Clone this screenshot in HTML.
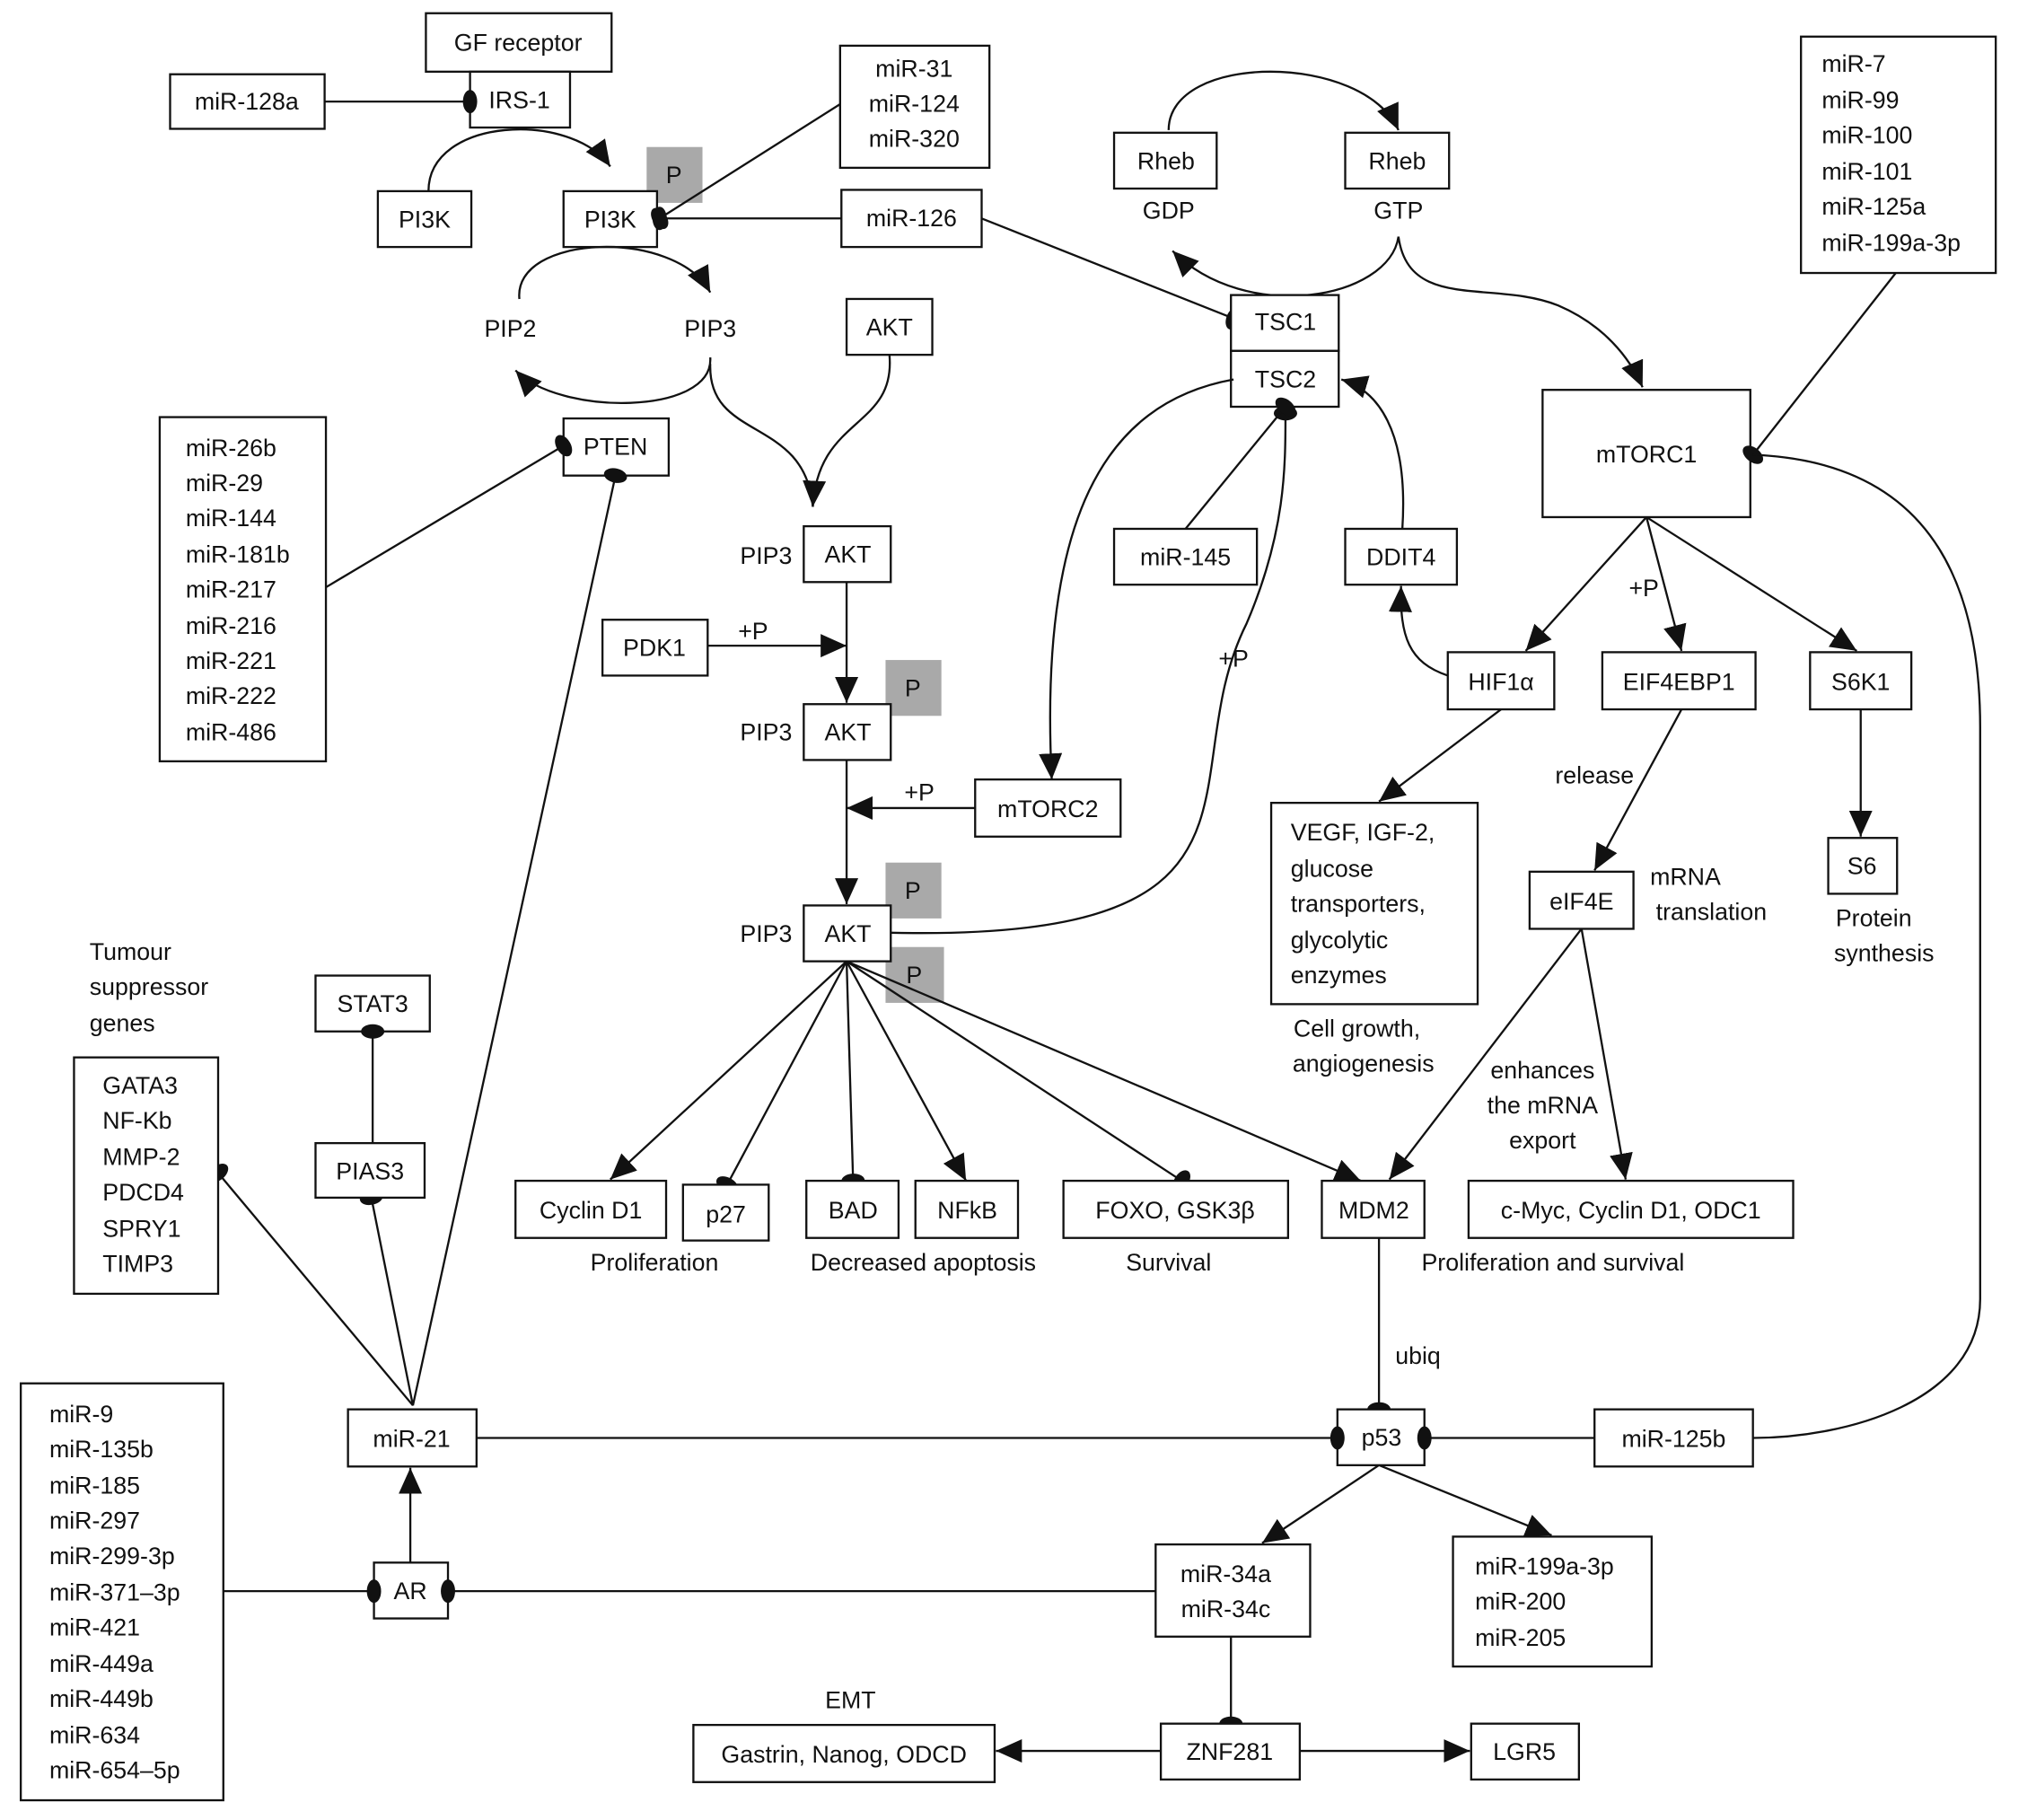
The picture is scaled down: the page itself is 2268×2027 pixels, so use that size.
<!DOCTYPE html>
<html><head><meta charset="utf-8"><style>
html,body{margin:0;padding:0;background:#fff;}
svg{display:block;}
text{font-family:"Liberation Sans",sans-serif;font-size:18.5px;fill:#111;}
.b{fill:#fff;stroke:#111;stroke-width:1.6;}
.g{fill:#a9a9a9;stroke:none;}
.l{fill:none;stroke:#111;stroke-width:1.6;}
</style></head><body>
<svg width="2268" height="2027" viewBox="0 0 1568 1401" xmlns="http://www.w3.org/2000/svg">
<defs>
<marker id="a" markerUnits="userSpaceOnUse" markerWidth="22" markerHeight="20" refX="20" refY="9" orient="auto"><path d="M0,0 L20,9 L0,18 z" fill="#111"/></marker>
<marker id="o" markerUnits="userSpaceOnUse" markerWidth="14" markerHeight="22" refX="6" refY="10" orient="auto"><ellipse cx="6" cy="10" rx="5.5" ry="9" fill="#111"/></marker>
</defs>
<g text-anchor="middle">
<rect class="b" x="328" y="10" width="143" height="45"/><text x="399" y="39">GF receptor</text>
<rect class="b" x="362" y="55" width="77" height="43"/><text x="400" y="83">IRS-1</text>
<rect class="b" x="131" y="57" width="119" height="42"/><text x="190" y="84">miR-128a</text>
<line class="l" x1="250" y1="78" x2="362" y2="78" marker-end="url(#o)"/>
<rect class="b" x="291" y="147" width="72" height="43"/><text x="327" y="175">PI3K</text>
<path class="l" d="M330,147 C330,90 440,85 470,128" marker-end="url(#a)"/>
<rect class="g" x="498" y="113" width="43" height="43"/><text x="519" y="141">P</text>
<rect class="b" x="434" y="147" width="72" height="43"/><text x="470" y="175">PI3K</text>
<rect class="b" x="647" y="35" width="115" height="94"/>
<text x="704" y="59">miR-31</text><text x="704" y="86">miR-124</text><text x="704" y="113">miR-320</text>
<line class="l" x1="647" y1="80" x2="508" y2="168" marker-end="url(#o)"/>
<rect class="b" x="648" y="146" width="108" height="44"/><text x="702" y="174">miR-126</text>
<line class="l" x1="648" y1="168" x2="508" y2="168" marker-end="url(#o)"/>
<line class="l" x1="756" y1="168" x2="950" y2="245" marker-end="url(#o)"/>
<text x="393" y="259">PIP2</text><text x="547" y="259">PIP3</text>
<path class="l" d="M400,230 C395,180 520,175 547,225" marker-end="url(#a)"/>
<path class="l" d="M547,275 C550,320 430,320 397,285" marker-end="url(#a)"/>
<rect class="b" x="434" y="322" width="81" height="44"/><text x="474" y="350">PTEN</text>
<rect class="b" x="123" y="321" width="128" height="265"/>
<g text-anchor="start">
<text x="143" y="351">miR-26b</text><text x="143" y="378">miR-29</text><text x="143" y="405">miR-144</text><text x="143" y="433">miR-181b</text><text x="143" y="460">miR-217</text><text x="143" y="488">miR-216</text><text x="143" y="515">miR-221</text><text x="143" y="542">miR-222</text><text x="143" y="570">miR-486</text>
</g>
<line class="l" x1="251" y1="452" x2="434" y2="343" marker-end="url(#o)"/>
<rect class="b" x="652" y="230" width="66" height="43"/><text x="685" y="258">AKT</text>
<path class="l" d="M685,273 C690,330 630,320 626,390" marker-end="url(#a)"/>
<path class="l" d="M547,280 C545,340 620,320 626,390"/>
<text x="590" y="434">PIP3</text>
<rect class="b" x="619" y="405" width="67" height="43"/><text x="653" y="433">AKT</text>
<rect class="b" x="464" y="477" width="81" height="43"/><text x="504" y="505">PDK1</text>
<text x="580" y="492">+P</text>
<line class="l" x1="545" y1="497" x2="652" y2="497" marker-end="url(#a)"/>
<line class="l" x1="652" y1="448" x2="652" y2="541" marker-end="url(#a)"/>
<rect class="g" x="682" y="508" width="43" height="43"/><text x="703" y="536">P</text>
<text x="590" y="570">PIP3</text>
<rect class="b" x="619" y="542" width="67" height="43"/><text x="653" y="570">AKT</text>
<rect class="b" x="751" y="600" width="112" height="44"/><text x="807" y="629">mTORC2</text>
<text x="708" y="616">+P</text>
<line class="l" x1="751" y1="622" x2="652" y2="622" marker-end="url(#a)"/>
<line class="l" x1="652" y1="585" x2="652" y2="696" marker-end="url(#a)"/>
<rect class="g" x="682" y="664" width="43" height="43"/><text x="703" y="692">P</text>
<rect class="g" x="682" y="729" width="45" height="43"/><text x="704" y="757">P</text>
<text x="590" y="725">PIP3</text>
<rect class="b" x="619" y="697" width="67" height="43"/><text x="653" y="725">AKT</text>
<line class="l" x1="652" y1="740" x2="470" y2="908" marker-end="url(#a)"/>
<line class="l" x1="652" y1="740" x2="560" y2="912" marker-end="url(#o)"/>
<line class="l" x1="652" y1="740" x2="657" y2="909" marker-end="url(#o)"/>
<line class="l" x1="652" y1="740" x2="744" y2="909" marker-end="url(#a)"/>
<line class="l" x1="652" y1="740" x2="910" y2="909" marker-end="url(#o)"/>
<line class="l" x1="652" y1="740" x2="1048" y2="909" marker-end="url(#a)"/>
<rect class="b" x="397" y="909" width="116" height="44"/><text x="455" y="938">Cyclin D1</text>
<rect class="b" x="526" y="912" width="66" height="43"/><text x="559" y="941">p27</text>
<rect class="b" x="621" y="909" width="71" height="44"/><text x="657" y="938">BAD</text>
<rect class="b" x="705" y="909" width="79" height="44"/><text x="745" y="938">NFkB</text>
<rect class="b" x="819" y="909" width="173" height="44"/><text x="905" y="938">FOXO, GSK3β</text>
<rect class="b" x="1018" y="909" width="79" height="44"/><text x="1058" y="938">MDM2</text>
<rect class="b" x="1131" y="909" width="250" height="44"/><text x="1256" y="938">c-Myc, Cyclin D1, ODC1</text>
<text x="504" y="978">Proliferation</text><text x="711" y="978">Decreased apoptosis</text><text x="900" y="978">Survival</text><text x="1196" y="978">Proliferation and survival</text>
<path class="l" d="M686,718 C1000,725 900,600 960,480 C990,410 990,360 990,318" marker-end="url(#o)"/>
<text x="950" y="513">+P</text>
<rect class="b" x="858" y="102" width="79" height="43"/><text x="898" y="130">Rheb</text>
<rect class="b" x="1036" y="102" width="80" height="43"/><text x="1076" y="130">Rheb</text>
<text x="900" y="168">GDP</text><text x="1077" y="168">GTP</text>
<path class="l" d="M900,100 C900,40 1050,40 1077,100" marker-end="url(#a)"/>
<path class="l" d="M1077,182 C1070,230 960,250 903,193" marker-end="url(#a)"/>
<path class="l" d="M1077,182 C1085,240 1150,215 1200,235 C1235,250 1255,275 1265,298" marker-end="url(#a)"/>
<rect class="b" x="948" y="227" width="83" height="43"/><text x="990" y="254">TSC1</text>
<rect class="b" x="948" y="270" width="83" height="43"/><text x="990" y="298">TSC2</text>
<path class="l" d="M950,292 C850,310 800,400 810,600" marker-end="url(#a)"/>
<rect class="b" x="858" y="407" width="110" height="43"/><text x="913" y="435">miR-145</text>
<line class="l" x1="913" y1="407" x2="990" y2="313" marker-end="url(#o)"/>
<rect class="b" x="1036" y="407" width="86" height="43"/><text x="1079" y="435">DDIT4</text>
<path class="l" d="M1080,407 C1085,330 1060,300 1033,292" marker-end="url(#a)"/>
<path class="l" d="M1115,520 C1085,510 1078,490 1079,451" marker-end="url(#a)"/>
<rect class="b" x="1188" y="300" width="160" height="98"/><text x="1268" y="356">mTORC1</text>
<rect class="b" x="1387" y="28" width="150" height="182"/>
<g text-anchor="start">
<text x="1403" y="55">miR-7</text><text x="1403" y="83">miR-99</text><text x="1403" y="110">miR-100</text><text x="1403" y="138">miR-101</text><text x="1403" y="165">miR-125a</text><text x="1403" y="193">miR-199a-3p</text>
</g>
<line class="l" x1="1460" y1="210" x2="1350" y2="350" marker-end="url(#o)"/>
<line class="l" x1="1268" y1="398" x2="1175" y2="501" marker-end="url(#a)"/>
<line class="l" x1="1268" y1="398" x2="1295" y2="501" marker-end="url(#a)"/>
<line class="l" x1="1268" y1="398" x2="1430" y2="501" marker-end="url(#a)"/>
<text x="1266" y="459">+P</text>
<rect class="b" x="1115" y="502" width="82" height="44"/><text x="1156" y="531">HIF1α</text>
<rect class="b" x="1234" y="502" width="118" height="44"/><text x="1293" y="531">EIF4EBP1</text>
<rect class="b" x="1394" y="502" width="78" height="44"/><text x="1433" y="531">S6K1</text>
<line class="l" x1="1433" y1="546" x2="1433" y2="644" marker-end="url(#a)"/>
<rect class="b" x="1408" y="645" width="53" height="43"/><text x="1434" y="673">S6</text>
<text x="1443" y="713">Protein</text><text x="1451" y="740">synthesis</text>
<line class="l" x1="1156" y1="546" x2="1062" y2="617" marker-end="url(#a)"/>
<rect class="b" x="979" y="618" width="159" height="155"/>
<g text-anchor="start">
<text x="994" y="647">VEGF, IGF-2,</text><text x="994" y="675">glucose</text><text x="994" y="702">transporters,</text><text x="994" y="730">glycolytic</text><text x="994" y="757">enzymes</text>
</g>
<text x="1045" y="798">Cell growth,</text><text x="1050" y="825">angiogenesis</text>
<line class="l" x1="1295" y1="546" x2="1228" y2="670" marker-end="url(#a)"/>
<text x="1228" y="603">release</text>
<rect class="b" x="1178" y="671" width="80" height="44"/><text x="1218" y="700">eIF4E</text>
<text x="1298" y="681">mRNA</text><text x="1318" y="708">translation</text>
<line class="l" x1="1218" y1="715" x2="1070" y2="908" marker-end="url(#a)"/>
<line class="l" x1="1218" y1="715" x2="1252" y2="908" marker-end="url(#a)"/>
<text x="1188" y="830">enhances</text><text x="1188" y="857">the mRNA</text><text x="1188" y="884">export</text>
<path class="l" d="M1350,350 C1480,355 1525,440 1525,560 L1525,1000 C1525,1080 1420,1107 1350,1107"/>
<line class="l" x1="1062" y1="953" x2="1062" y2="1085" marker-end="url(#o)"/>
<text x="1092" y="1050">ubiq</text>
<rect class="b" x="1030" y="1085" width="67" height="43"/><text x="1064" y="1113">p53</text>
<rect class="b" x="1228" y="1085" width="122" height="44"/><text x="1289" y="1114">miR-125b</text>
<line class="l" x1="1228" y1="1107" x2="1097" y2="1107" marker-end="url(#o)"/>
<rect class="b" x="268" y="1085" width="99" height="44"/><text x="317" y="1114">miR-21</text>
<line class="l" x1="367" y1="1107" x2="1030" y2="1107" marker-end="url(#o)"/>
<line class="l" x1="318" y1="1082" x2="474" y2="366" marker-end="url(#o)"/>
<line class="l" x1="318" y1="1082" x2="168" y2="903" marker-end="url(#o)"/>
<line class="l" x1="318" y1="1082" x2="286" y2="922" marker-end="url(#o)"/>
<g text-anchor="start">
<text x="69" y="739">Tumour</text><text x="69" y="766">suppressor</text><text x="69" y="794">genes</text>
</g>
<rect class="b" x="57" y="814" width="111" height="182"/>
<g text-anchor="start">
<text x="79" y="842">GATA3</text><text x="79" y="869">NF-Kb</text><text x="79" y="897">MMP-2</text><text x="79" y="924">PDCD4</text><text x="79" y="952">SPRY1</text><text x="79" y="979">TIMP3</text>
</g>
<rect class="b" x="243" y="751" width="88" height="43"/><text x="287" y="779">STAT3</text>
<line class="l" x1="287" y1="880" x2="287" y2="794" marker-end="url(#o)"/>
<rect class="b" x="243" y="880" width="84" height="42"/><text x="285" y="908">PIAS3</text>
<rect class="b" x="288" y="1203" width="57" height="43"/><text x="316" y="1231">AR</text>
<line class="l" x1="316" y1="1203" x2="316" y2="1130" marker-end="url(#a)"/>
<rect class="b" x="16" y="1065" width="156" height="321"/>
<g text-anchor="start">
<text x="38" y="1095">miR-9</text><text x="38" y="1122">miR-135b</text><text x="38" y="1150">miR-185</text><text x="38" y="1177">miR-297</text><text x="38" y="1204">miR-299-3p</text><text x="38" y="1232">miR-371–3p</text><text x="38" y="1259">miR-421</text><text x="38" y="1287">miR-449a</text><text x="38" y="1314">miR-449b</text><text x="38" y="1342">miR-634</text><text x="38" y="1369">miR-654–5p</text>
</g>
<line class="l" x1="172" y1="1225" x2="288" y2="1225" marker-end="url(#o)"/>
<line class="l" x1="890" y1="1225" x2="345" y2="1225" marker-end="url(#o)"/>
<rect class="b" x="890" y="1189" width="119" height="71"/><text x="944" y="1218">miR-34a</text><text x="944" y="1245">miR-34c</text>
<line class="l" x1="1062" y1="1128" x2="972" y2="1188" marker-end="url(#a)"/>
<line class="l" x1="1062" y1="1128" x2="1195" y2="1182" marker-end="url(#a)"/>
<rect class="b" x="1119" y="1183" width="153" height="100"/>
<g text-anchor="start"><text x="1136" y="1212">miR-199a-3p</text><text x="1136" y="1239">miR-200</text><text x="1136" y="1267">miR-205</text></g>
<line class="l" x1="948" y1="1260" x2="948" y2="1327" marker-end="url(#o)"/>
<rect class="b" x="894" y="1327" width="107" height="43"/><text x="947" y="1355">ZNF281</text>
<line class="l" x1="894" y1="1348" x2="767" y2="1348" marker-end="url(#a)"/>
<line class="l" x1="1001" y1="1348" x2="1132" y2="1348" marker-end="url(#a)"/>
<rect class="b" x="534" y="1328" width="232" height="44"/><text x="650" y="1357">Gastrin, Nanog, ODCD</text>
<rect class="b" x="1133" y="1327" width="83" height="43"/><text x="1174" y="1355">LGR5</text>
<text x="655" y="1315">EMT</text>
</g>
</svg>
</body></html>
